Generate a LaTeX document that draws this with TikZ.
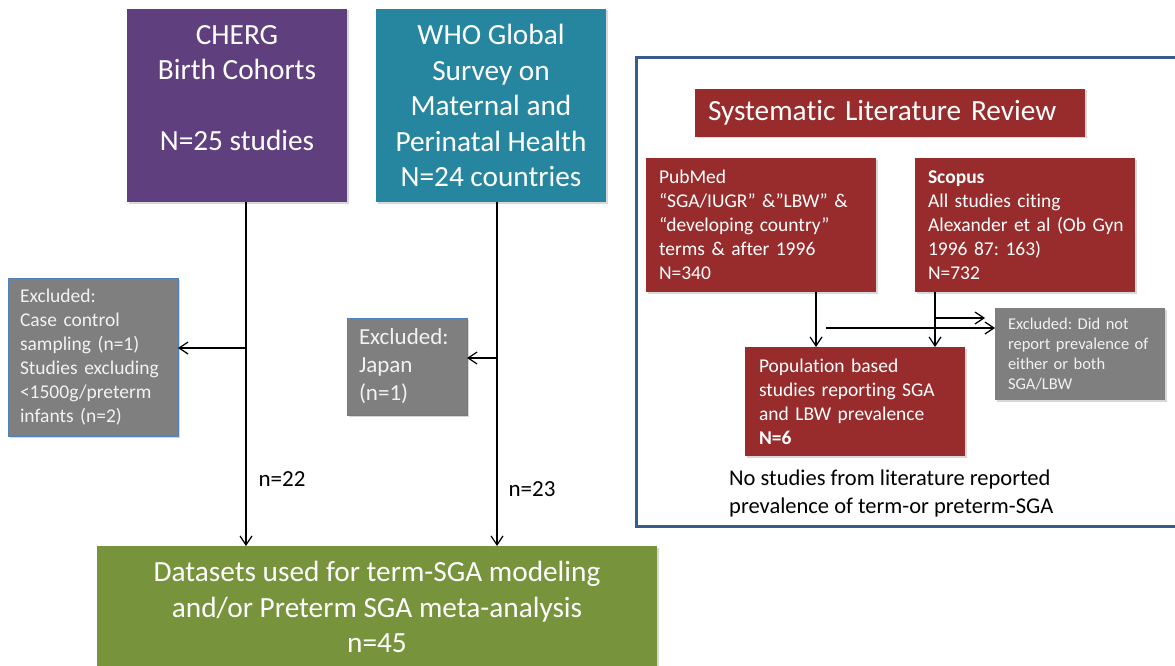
\documentclass[tikz,border=0pt]{standalone}
\usepackage{fontspec}
\setmainfont{Carlito}[Ligatures=NoCommon]
\usetikzlibrary{arrows.meta,shadows,calc}
\definecolor{cpurple}{RGB}{95,63,126}
\definecolor{cteal}{RGB}{38,134,160}
\definecolor{cgreen}{RGB}{119,147,60}
\definecolor{cred}{RGB}{152,44,44}
\definecolor{cgray}{RGB}{127,127,127}
\definecolor{cframe}{RGB}{56,93,138}
\definecolor{cborder}{RGB}{79,129,189}
\definecolor{ctxt}{RGB}{242,242,242}
\newcommand\fbig{\fontsize{29.3}{35.5}\selectfont}
\newcommand\fmid{\fontsize{19.5}{24}\selectfont}
\newcommand\fjap{\fontsize{23}{28}\selectfont}
\newcommand\fsml{\fontsize{16.5}{20}\selectfont}
\newcommand\fnote{\fontsize{22.5}{28}\selectfont}
\frenchspacing
\begin{document}
\begin{tikzpicture}[x=1pt,y=-1pt,
  box/.style={inner sep=0pt, outer sep=0pt, text=white,
    drop shadow={shadow xshift=1.5pt,shadow yshift=-1.5pt,opacity=0.3}},
  lbox/.style={box, align=left, inner xsep=#1},
  arr/.style={line width=1.2pt, -{Straight Barb[length=9pt,width=12pt,line width=1.2pt]}},
  exbox/.style={fill=cgray, text=ctxt},
  redbox/.style={fill=cred},
  ]
\useasboundingbox (0,0) rectangle (1175,666);
\fill[white] (0,0) rectangle (1175,666);

% left part
\node[box, fill=cpurple, minimum width=220pt, minimum height=193pt, align=center, font=\fbig]
  (cherg) at (237,105.5) {CHERG\\Birth Cohorts\\~\\N=25 studies\\~};
\node[box, fill=cteal, minimum width=230pt, minimum height=193pt, align=center, font=\fbig]
  (who) at (491,105.5) {WHO Global\\Survey on\\Maternal and\\Perinatal Health\\N=24 countries};
\node[lbox=12pt, exbox, draw=cborder, line width=1pt, text width=146pt, minimum height=158pt, font=\fmid]
  (exc1) at (93,357) {Excluded:\\Case~control\\sampling~(n=1)\\Studies~excluding\\<1500g/preterm\\infants~(n=2)};
\node[lbox=12pt, exbox, draw=cborder, line width=1pt, text width=96pt, minimum height=97pt, font=\fjap]
  (jap) at (407,366.5) {Excluded:\\Japan\\(n=1)};
\node[box, fill=cgreen, minimum width=560pt, minimum height=122pt, align=center, font=\fbig]
  (bottom) at (377,607) {Datasets used for term-SGA modeling\\and/or Preterm SGA meta-analysis\\n=45};
\node[font=\fjap, inner sep=0pt] (n22) at (282,479) {n=22};
\node[font=\fjap, inner sep=0pt] (n23) at (532,489) {n=23};

\coordinate (c1) at ([xshift=9pt]cherg.south);
\draw[arr] (c1) -- (c1 |- bottom.north);
\coordinate (c1b) at (246,348);
\draw[arr] (c1b) -- (c1b -| exc1.east);
\coordinate (c2) at ([xshift=6pt]who.south);
\draw[arr] (c2) -- (c2 |- bottom.north);
\coordinate (c2b) at (497,358);
\draw[arr] (c2b) -- (c2b -| jap.east);

% right panel
\draw[cframe, line width=3pt] (636,57.5) rectangle (1185,526.5);
\node[lbox=13pt, redbox, text width=364pt, minimum height=48pt, font=\fbig]
  (slr) at (890,113) {Systematic Literature Review};
\node[lbox=13pt, redbox, text width=204pt, minimum height=134pt, font=\fmid]
  (pubmed) at (761,225) {PubMed\\“SGA/IUGR”~\&”LBW”~\&\\“developing~country”\\terms~\&~after~1996\\N=340};
\node[lbox=13pt, redbox, text width=194pt, minimum height=134pt, font=\fmid]
  (scopus) at (1025,225) {\textbf{Scopus}\\All~studies~citing\\Alexander~et~al~(Ob~Gyn\\1996~87:~163)\\N=732};
\node[lbox=14pt, redbox, text width=192pt, minimum height=109pt, font=\fmid]
  (pop) at (855,401.5) {Population~based\\studies~reporting~SGA\\and~LBW~prevalence\\\textbf{N=6}};
\node[lbox=13pt, exbox, text width=144pt, minimum height=92pt, font=\fsml]
  (excR) at (1080,354) {Excluded:~Did~not\\report~prevalence~of\\either~or~both\\SGA/LBW};
\node[font=\fnote, align=left, anchor=west, inner sep=0pt]
  (note) at (729,493) {No studies from literature reported\\prevalence of term-or preterm-SGA};

\coordinate (p1) at ([xshift=55pt]pubmed.south);
\draw[arr] (p1) -- (p1 |- pop.north);
\coordinate (s1) at ([xshift=-90pt]scopus.south);
\draw[arr] (s1) -- (s1 |- pop.north);
\coordinate (h1) at (826,328);
\draw[arr] (h1) -- (h1 -| excR.west);
\coordinate (h2s) at (935,318);
\coordinate (h2e) at (985,318);
\draw[arr] (h2s) -- (h2e);
\end{tikzpicture}
\end{document}
